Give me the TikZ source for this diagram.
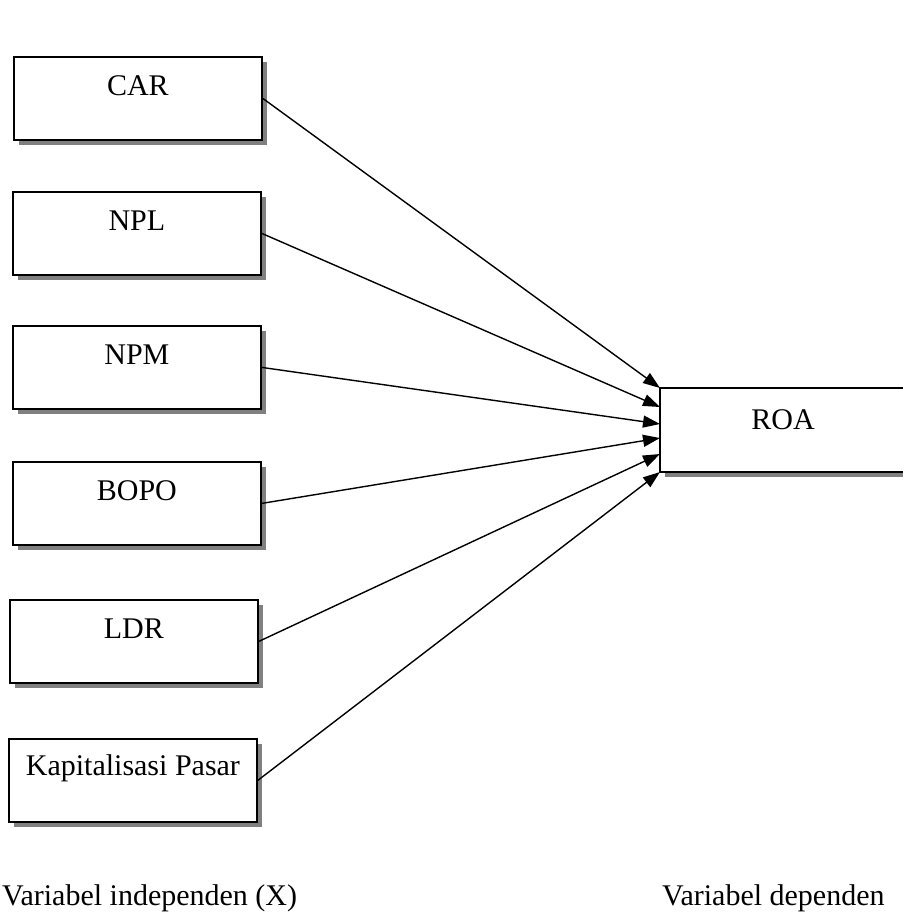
\documentclass[tikz,border=0pt]{standalone}
\usepackage{fontspec}
\setmainfont{Liberation Serif}
\usetikzlibrary{arrows.meta,shadows}
\begin{document}
\begin{tikzpicture}[x=1pt,y=-1pt,
  varbox/.style={draw, line width=1.8pt, fill=white, minimum width=248pt,
    minimum height=83pt, anchor=north west, inner sep=0pt,
    drop shadow={shadow xshift=5pt, shadow yshift=-5pt, fill=black!50, opacity=1}},
  edge3/.style={line width=1.8pt},
  lbl/.style={font=\fontsize{30}{36}\selectfont, inner sep=0pt},
  boxlbl/.style={lbl, anchor=center, yshift=-30pt},
  link/.style={line width=1.4pt, -{Triangle[length=17pt,width=12pt]}}]
\useasboundingbox (0,0) rectangle (902,920);
\fill[white] (0,0) rectangle (902,920);

\node[varbox, label={[boxlbl]north:CAR}] (car) at (13,56) {};
\node[varbox, label={[boxlbl]north:NPL}] (npl) at (12,191) {};
\node[varbox, label={[boxlbl]north:NPM}] (npm) at (12,325) {};
\node[varbox, label={[boxlbl]north:BOPO}] (bopo) at (12,461) {};
\node[varbox, label={[boxlbl]north:LDR}] (ldr) at (9,599) {};
\node[varbox, label={[boxlbl]north:Kapitalisasi Pasar}] (kap) at (8,738) {};

\coordinate (roanw) at (660,388);
\coordinate (roasw) at (660,472);
\coordinate (roane) at (910,388);
\coordinate (roase) at (910,472);
\fill[black!50] (665,472) rectangle (910,477);
\draw[edge3] (roane) -- (roanw) -- (roasw) -- (roase);
\node[lbl] (roa) at (783,420) {ROA};

\coordinate (t1) at (660,388);
\coordinate (t2) at (660,407);
\coordinate (t3) at (660,424);
\coordinate (t4) at (660,438);
\coordinate (t5) at (660,454);
\coordinate (t6) at (660,472);

\draw[link] (car.east) -- (t1);
\draw[link] (npl.east) -- (t2);
\draw[link] (npm.east) -- (t3);
\draw[link] (bopo.east) -- (t4);
\draw[link] (ldr.east) -- (t5);
\draw[link] (kap.east) -- (t6);

\node[lbl, anchor=base west] (indep) at (2,905) {Variabel independen (X)};
\node[lbl, anchor=base west] (dep) at (662,905) {Variabel dependen};
\end{tikzpicture}
\end{document}
